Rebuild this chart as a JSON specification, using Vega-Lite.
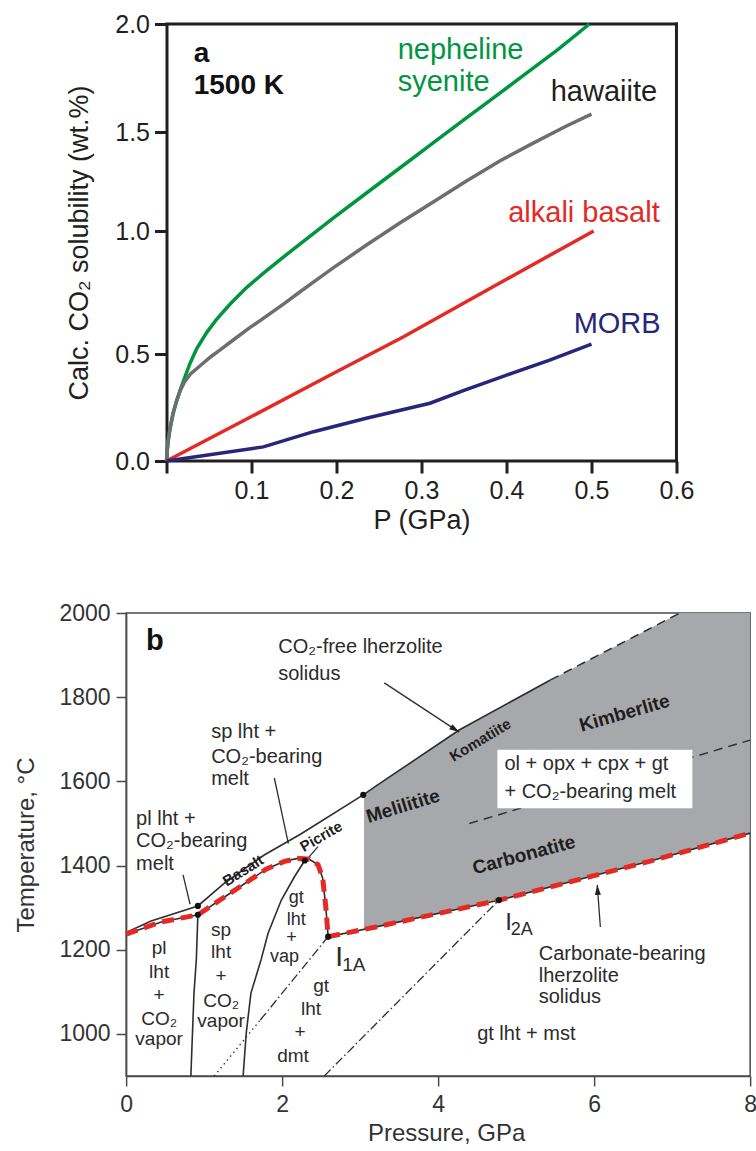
{
  "$schema": "https://vega.github.io/schema/vega-lite/v6.json",
  "background": "white",
  "padding": {"left": 14, "top": 12, "right": 0, "bottom": 0},
  "config": {"font": "Liberation Sans", "text": {"font": "Liberation Sans"}},
  "center": true,
  "spacing": 68,
  "datasets": {
    "A": [
      {"s": "nepheline syenite", "x": 0, "y": 0},
      {"s": "nepheline syenite", "x": 0.0008, "y": 0.047},
      {"s": "nepheline syenite", "x": 0.0021, "y": 0.098},
      {"s": "nepheline syenite", "x": 0.0041, "y": 0.15},
      {"s": "nepheline syenite", "x": 0.0076, "y": 0.22},
      {"s": "nepheline syenite", "x": 0.0118, "y": 0.28},
      {"s": "nepheline syenite", "x": 0.0165, "y": 0.336},
      {"s": "nepheline syenite", "x": 0.0212, "y": 0.388},
      {"s": "nepheline syenite", "x": 0.0279, "y": 0.458},
      {"s": "nepheline syenite", "x": 0.0356, "y": 0.522},
      {"s": "nepheline syenite", "x": 0.0474, "y": 0.588},
      {"s": "nepheline syenite", "x": 0.0592, "y": 0.642},
      {"s": "nepheline syenite", "x": 0.0749, "y": 0.703},
      {"s": "nepheline syenite", "x": 0.0945, "y": 0.771},
      {"s": "nepheline syenite", "x": 0.1141, "y": 0.829},
      {"s": "nepheline syenite", "x": 0.1338, "y": 0.884},
      {"s": "nepheline syenite", "x": 0.1573, "y": 0.948},
      {"s": "nepheline syenite", "x": 0.1965, "y": 1.066},
      {"s": "nepheline syenite", "x": 0.2353, "y": 1.192},
      {"s": "nepheline syenite", "x": 0.2741, "y": 1.317},
      {"s": "nepheline syenite", "x": 0.3141, "y": 1.446},
      {"s": "nepheline syenite", "x": 0.3529, "y": 1.565},
      {"s": "nepheline syenite", "x": 0.3847, "y": 1.658},
      {"s": "nepheline syenite", "x": 0.42, "y": 1.7625},
      {"s": "nepheline syenite", "x": 0.46, "y": 1.88},
      {"s": "nepheline syenite", "x": 0.4976, "y": 2.0},
      {"s": "hawaiite", "x": 0, "y": 0},
      {"s": "hawaiite", "x": 0.0008, "y": 0.047},
      {"s": "hawaiite", "x": 0.0021, "y": 0.098},
      {"s": "hawaiite", "x": 0.0041, "y": 0.15},
      {"s": "hawaiite", "x": 0.0076, "y": 0.22},
      {"s": "hawaiite", "x": 0.0118, "y": 0.28},
      {"s": "hawaiite", "x": 0.0165, "y": 0.332},
      {"s": "hawaiite", "x": 0.0212, "y": 0.369},
      {"s": "hawaiite", "x": 0.0282, "y": 0.407},
      {"s": "hawaiite", "x": 0.0392, "y": 0.444},
      {"s": "hawaiite", "x": 0.0518, "y": 0.486},
      {"s": "hawaiite", "x": 0.0635, "y": 0.518},
      {"s": "hawaiite", "x": 0.0785, "y": 0.557},
      {"s": "hawaiite", "x": 0.0976, "y": 0.606},
      {"s": "hawaiite", "x": 0.1176, "y": 0.654},
      {"s": "hawaiite", "x": 0.1376, "y": 0.703},
      {"s": "hawaiite", "x": 0.1568, "y": 0.752},
      {"s": "hawaiite", "x": 0.1765, "y": 0.801},
      {"s": "hawaiite", "x": 0.1961, "y": 0.85},
      {"s": "hawaiite", "x": 0.2353, "y": 0.943},
      {"s": "hawaiite", "x": 0.2745, "y": 1.04},
      {"s": "hawaiite", "x": 0.3138, "y": 1.146},
      {"s": "hawaiite", "x": 0.3529, "y": 1.253},
      {"s": "hawaiite", "x": 0.3921, "y": 1.354},
      {"s": "hawaiite", "x": 0.4314, "y": 1.444},
      {"s": "hawaiite", "x": 0.4706, "y": 1.528},
      {"s": "hawaiite", "x": 0.5, "y": 1.583},
      {"s": "alkali basalt", "x": 0, "y": 0},
      {"s": "alkali basalt", "x": 0.1, "y": 0.208},
      {"s": "alkali basalt", "x": 0.2, "y": 0.417},
      {"s": "alkali basalt", "x": 0.2784, "y": 0.569},
      {"s": "alkali basalt", "x": 0.4, "y": 0.804},
      {"s": "alkali basalt", "x": 0.5026, "y": 1.0},
      {"s": "MORB", "x": 0, "y": 0},
      {"s": "MORB", "x": 0.114, "y": 0.066},
      {"s": "MORB", "x": 0.173, "y": 0.137},
      {"s": "MORB", "x": 0.235, "y": 0.2},
      {"s": "MORB", "x": 0.31, "y": 0.27},
      {"s": "MORB", "x": 0.35, "y": 0.33},
      {"s": "MORB", "x": 0.392, "y": 0.39},
      {"s": "MORB", "x": 0.45, "y": 0.47},
      {"s": "MORB", "x": 0.5, "y": 0.54}
    ],
    "Aframe": [
      {"x": 0, "y": 2, "x2": 0.6, "y2": 2},
      {"x": 0.6, "y": 0, "x2": 0.6, "y2": 2},
      {"x": 0, "y": 0, "x2": 0.6, "y2": 0}
    ],
    "Alab": [
      {"t": "a", "x": 0.032, "y": 1.824, "c": "ink", "w": "b"},
      {"t": "1500 K", "x": 0.032, "y": 1.676, "c": "ink", "w": "b"},
      {"t": "nepheline", "x": 0.272, "y": 1.838, "c": "nepheline syenite", "w": "n"},
      {"t": "syenite", "x": 0.272, "y": 1.69, "c": "nepheline syenite", "w": "n"},
      {"t": "hawaiite", "x": 0.452, "y": 1.645, "c": "ink", "w": "n"},
      {"t": "alkali basalt", "x": 0.402, "y": 1.047, "c": "alkali basalt", "w": "n"},
      {"t": "MORB", "x": 0.479, "y": 0.585, "c": "MORB", "w": "n"}
    ],
    "Barea": [
      {"P": 3.05, "T": 1569, "T2": 1248},
      {"P": 3.22, "T": 1591, "T2": 1255},
      {"P": 4.27, "T": 1722, "T2": 1297},
      {"P": 5.44, "T": 1841, "T2": 1349},
      {"P": 7.1, "T": 2000, "T2": 1430},
      {"P": 8.0, "T": 2000, "T2": 1477}
    ],
    "Bline": [
      {"id": "co2free", "st": "solid", "P": 0, "T": 1241},
      {"id": "co2free", "st": "solid", "P": 0.32, "T": 1268},
      {"id": "co2free", "st": "solid", "P": 0.92, "T": 1304},
      {"id": "co2free", "st": "solid", "P": 1.26, "T": 1358},
      {"id": "co2free", "st": "solid", "P": 1.77, "T": 1425},
      {"id": "co2free", "st": "solid", "P": 2.24, "T": 1475},
      {"id": "co2free", "st": "solid", "P": 3.04, "T": 1568},
      {"id": "co2free", "st": "solid", "P": 3.22, "T": 1591},
      {"id": "co2free", "st": "solid", "P": 4.27, "T": 1722},
      {"id": "co2free", "st": "solid", "P": 5.44, "T": 1841},
      {"id": "co2freeDash", "st": "dash", "P": 5.44, "T": 1841},
      {"id": "co2freeDash", "st": "dash", "P": 7.1, "T": 2000},
      {"id": "plsp", "st": "solid", "P": 0.92, "T": 1283},
      {"id": "plsp", "st": "solid", "P": 0.9, "T": 1176},
      {"id": "plsp", "st": "solid", "P": 0.87, "T": 1097},
      {"id": "plsp", "st": "solid", "P": 0.83, "T": 900},
      {"id": "spgt", "st": "solid", "P": 2.29, "T": 1412},
      {"id": "spgt", "st": "solid", "P": 2.16, "T": 1374},
      {"id": "spgt", "st": "solid", "P": 1.99, "T": 1318},
      {"id": "spgt", "st": "solid", "P": 1.82, "T": 1239},
      {"id": "spgt", "st": "solid", "P": 1.73, "T": 1176},
      {"id": "spgt", "st": "solid", "P": 1.6, "T": 1097},
      {"id": "spgt", "st": "solid", "P": 1.54, "T": 1002},
      {"id": "spgt", "st": "solid", "P": 1.5, "T": 900},
      {"id": "dmt", "st": "dot", "P": 1.13, "T": 900},
      {"id": "dmt", "st": "dot", "P": 1.72, "T": 1033},
      {"id": "dmtU", "st": "dashdot", "P": 1.72, "T": 1033},
      {"id": "dmtU", "st": "dashdot", "P": 2.59, "T": 1231},
      {"id": "mst", "st": "dashdot", "P": 2.54, "T": 900},
      {"id": "mst", "st": "dashdot", "P": 4.78, "T": 1318},
      {"id": "kimb", "st": "dash", "P": 4.4, "T": 1500},
      {"id": "kimb", "st": "dash", "P": 8.0, "T": 1698},
      {"id": "carb", "st": "carb", "P": 0, "T": 1237},
      {"id": "carb", "st": "carb", "P": 0.45, "T": 1266},
      {"id": "carb", "st": "carb", "P": 0.92, "T": 1283},
      {"id": "carb", "st": "carb", "P": 1.3, "T": 1330},
      {"id": "carb", "st": "carb", "P": 1.56, "T": 1362},
      {"id": "carb", "st": "carb", "P": 1.8, "T": 1392},
      {"id": "carb", "st": "carb", "P": 2.03, "T": 1410},
      {"id": "carb", "st": "carb", "P": 2.2, "T": 1417},
      {"id": "carb", "st": "carb", "P": 2.35, "T": 1415},
      {"id": "carb", "st": "carb", "P": 2.46, "T": 1402},
      {"id": "carb", "st": "carb", "P": 2.52, "T": 1370},
      {"id": "carb", "st": "carb", "P": 2.56, "T": 1302},
      {"id": "carb", "st": "carb", "P": 2.59, "T": 1231},
      {"id": "carb", "st": "carb", "P": 3.25, "T": 1256},
      {"id": "carb", "st": "carb", "P": 4.79, "T": 1318},
      {"id": "carb", "st": "carb", "P": 6.77, "T": 1413},
      {"id": "carb", "st": "carb", "P": 8.0, "T": 1477}
    ],
    "Bpt": [
      {"P": 0.92, "T": 1304},
      {"P": 0.92, "T": 1283},
      {"P": 2.29, "T": 1412},
      {"P": 3.04, "T": 1568},
      {"P": 2.59, "T": 1231},
      {"P": 4.78, "T": 1318}
    ],
    "Barr": [
      {"P": 3.31, "T": 1834, "P2": 4.27, "T2": 1717},
      {"P": 6.08, "T": 1254, "P2": 6.04, "T2": 1354},
      {"P": 1.9, "T": 1608, "P2": 2.08, "T2": 1452},
      {"P": 0.73, "T": 1378, "P2": 0.82, "T2": 1308},
      {"P": 2.46, "T": 1445, "P2": 2.31, "T2": 1413}
    ],
    "Bhead": [
      {"P": 4.27, "T": 1717, "ang": 123},
      {"P": 6.04, "T": 1354, "ang": 356}
    ],
    "Bbox": [
      {"P": 4.76, "T": 1675, "P2": 7.26, "T2": 1536}
    ],
    "Btxt": [
      {"t": "b", "P": 0.256, "T": 1912, "k": "B", "fs": 29, "ang": 0},
      {"t": "CO₂-free lherzolite", "P": 1.95, "T": 1905, "k": "l", "fs": 20, "ang": 0},
      {"t": "solidus", "P": 1.95, "T": 1841, "k": "l", "fs": 20, "ang": 0},
      {"t": "sp lht +", "P": 1.09, "T": 1703, "k": "l", "fs": 20, "ang": 0},
      {"t": "CO₂-bearing", "P": 1.09, "T": 1644, "k": "l", "fs": 20, "ang": 0},
      {"t": "melt", "P": 1.09, "T": 1591, "k": "l", "fs": 20, "ang": 0},
      {"t": "pl lht +", "P": 0.128, "T": 1496, "k": "l", "fs": 20, "ang": 0},
      {"t": "CO₂-bearing", "P": 0.128, "T": 1445, "k": "l", "fs": 20, "ang": 0},
      {"t": "melt", "P": 0.128, "T": 1389, "k": "l", "fs": 20, "ang": 0},
      {"t": "ol + opx + cpx + gt", "P": 4.85, "T": 1627, "k": "l", "fs": 20, "ang": 0},
      {"t": "+ CO₂-bearing melt", "P": 4.85, "T": 1560, "k": "l", "fs": 20, "ang": 0},
      {"t": "Carbonate-bearing", "P": 5.29, "T": 1176, "k": "l", "fs": 20, "ang": 0},
      {"t": "lherzolite", "P": 5.29, "T": 1124, "k": "l", "fs": 20, "ang": 0},
      {"t": "solidus", "P": 5.29, "T": 1074, "k": "l", "fs": 20, "ang": 0},
      {"t": "gt lht + mst", "P": 4.5, "T": 986, "k": "l", "fs": 20, "ang": 0},
      {"t": "I", "P": 2.68, "T": 1161, "k": "l", "fs": 28, "ang": 0},
      {"t": "1A", "P": 2.77, "T": 1149, "k": "l", "fs": 19, "ang": 0},
      {"t": "I", "P": 4.86, "T": 1247, "k": "l", "fs": 24, "ang": 0},
      {"t": "2A", "P": 4.93, "T": 1235, "k": "l", "fs": 18, "ang": 0},
      {"t": "pl", "P": 0.423, "T": 1191, "k": "c", "fs": 19, "ang": 0},
      {"t": "lht", "P": 0.423, "T": 1134, "k": "c", "fs": 19, "ang": 0},
      {"t": "+", "P": 0.423, "T": 1079, "k": "c", "fs": 19, "ang": 0},
      {"t": "CO₂", "P": 0.423, "T": 1020, "k": "c", "fs": 19, "ang": 0},
      {"t": "vapor", "P": 0.423, "T": 974, "k": "c", "fs": 19, "ang": 0},
      {"t": "sp", "P": 1.218, "T": 1233, "k": "c", "fs": 19, "ang": 0},
      {"t": "lht", "P": 1.218, "T": 1180, "k": "c", "fs": 19, "ang": 0},
      {"t": "+", "P": 1.218, "T": 1124, "k": "c", "fs": 19, "ang": 0},
      {"t": "CO₂", "P": 1.218, "T": 1065, "k": "c", "fs": 19, "ang": 0},
      {"t": "vapor", "P": 1.218, "T": 1017, "k": "c", "fs": 19, "ang": 0},
      {"t": "gt", "P": 2.18, "T": 1310, "k": "c", "fs": 18, "ang": 0},
      {"t": "lht", "P": 2.18, "T": 1259, "k": "c", "fs": 18, "ang": 0},
      {"t": "+", "P": 2.12, "T": 1216, "k": "c", "fs": 18, "ang": 0},
      {"t": "vap", "P": 2.03, "T": 1172, "k": "c", "fs": 18, "ang": 0},
      {"t": "gt", "P": 2.5, "T": 1100, "k": "c", "fs": 19, "ang": 0},
      {"t": "lht", "P": 2.37, "T": 1045, "k": "c", "fs": 19, "ang": 0},
      {"t": "+", "P": 2.23, "T": 990, "k": "c", "fs": 19, "ang": 0},
      {"t": "dmt", "P": 2.14, "T": 934, "k": "c", "fs": 19, "ang": 0},
      {"t": "Basalt", "P": 1.5, "T": 1388, "k": "r", "fs": 15, "ang": 328},
      {"t": "Picrite", "P": 2.5, "T": 1469, "k": "r", "fs": 15, "ang": 330},
      {"t": "Komatiite", "P": 4.54, "T": 1698, "k": "r", "fs": 15, "ang": 329},
      {"t": "Melilitite", "P": 3.55, "T": 1541, "k": "r", "fs": 19, "ang": 343},
      {"t": "Kimberlite", "P": 6.39, "T": 1762, "k": "r", "fs": 19, "ang": 344},
      {"t": "Carbonatite", "P": 5.1, "T": 1425, "k": "r", "fs": 19, "ang": 345}
    ]
  },
  "vconcat": [
    {
      "width": 554,
      "height": 437,
      "view": {"stroke": null},
      "encoding": {
        "x": {
          "field": "x", "type": "quantitative",
          "scale": {"domain": [0, 0.6518], "nice": false, "zero": false},
          "axis": {
            "title": "P (GPa)", "titleX": 255, "values": [0, 0.1, 0.2, 0.3, 0.4, 0.5, 0.6],
            "labelExpr": "datum.value == 0 ? '' : format(datum.value, '.1f')",
            "grid": false, "domain": false,
            "tickColor": "#231f20", "tickWidth": 3, "tickSize": 12,
            "labelFont": "Liberation Sans", "labelFontSize": 25, "labelColor": "#231f20",
            "labelPadding": 5, "labelFlush": false, "labelOverlap": false,
            "titleFont": "Liberation Sans", "titleFontSize": 27, "titleFontWeight": "normal",
            "titleColor": "#231f20", "titlePadding": 4
          }
        },
        "y": {
          "field": "y", "type": "quantitative",
          "scale": {"domain": [0, 0.5, 1, 1.5, 2], "range": [437, 330, 207, 108, 0], "nice": false, "zero": false},
          "axis": {
            "title": "Calc. CO₂ solubility (wt.%)", "values": [0, 0.5, 1, 1.5, 2], "format": ".1f",
            "grid": false, "domainColor": "#231f20", "domainWidth": 3,
            "tickColor": "#231f20", "tickWidth": 3, "tickSize": 12,
            "labelFont": "Liberation Sans", "labelFontSize": 25, "labelColor": "#231f20",
            "labelPadding": 5, "labelFlush": false, "labelOverlap": false,
            "titleFont": "Liberation Sans", "titleFontSize": 27, "titleFontWeight": "normal",
            "titleColor": "#231f20", "titlePadding": 21
          }
        }
      },
      "layer": [
        {
          "data": {"name": "Aframe"},
          "mark": {"type": "rule", "color": "#231f20", "strokeWidth": 3, "strokeCap": "square"},
          "encoding": {"x2": {"field": "x2"}, "y2": {"field": "y2"}}
        },
        {
          "data": {"name": "A"},
          "mark": {"type": "line", "strokeWidth": 3.5},
          "encoding": {
            "color": {"field": "s", "type": "nominal", "legend": null,
              "scale": {"domain": ["nepheline syenite", "hawaiite", "alkali basalt", "MORB", "ink"],
                        "range": ["#00963f", "#6d6e71", "#e42a24", "#27267a", "#231f20"]}},
            "detail": {"field": "s", "type": "nominal"}
          }
        },
        {
          "data": {"name": "Alab"},
          "transform": [{"filter": "datum.w == 'n'"}],
          "mark": {"type": "text", "align": "left", "baseline": "alphabetic", "fontSize": 29, "font": "Liberation Sans"},
          "encoding": {
            "text": {"field": "t"},
            "color": {"field": "c", "type": "nominal", "legend": null,
              "scale": {"domain": ["nepheline syenite", "hawaiite", "alkali basalt", "MORB", "ink"],
                        "range": ["#00963f", "#6d6e71", "#e42a24", "#27267a", "#231f20"]}}
          }
        },
        {
          "data": {"name": "Alab"},
          "transform": [{"filter": "datum.w == 'b'"}],
          "mark": {"type": "text", "align": "left", "baseline": "alphabetic", "fontSize": 28, "fontWeight": "bold", "font": "Liberation Sans", "color": "#111111"},
          "encoding": {"text": {"field": "t"}}
        }
      ]
    },
    {
      "width": 624,
      "height": 463,
      "view": {"stroke": "#4a4a4a", "strokeWidth": 1.5},
      "encoding": {
        "x": {
          "field": "P", "type": "quantitative",
          "scale": {"domain": [0, 8], "nice": false, "zero": false},
          "axis": {
            "title": "Pressure, GPa", "titleX": 320, "values": [0, 2, 4, 6, 8], "format": "d",
            "grid": false, "domainColor": "#4a4a4a", "domainWidth": 1.5,
            "tickColor": "#4a4a4a", "tickWidth": 1.5, "tickSize": 10,
            "labelFont": "Liberation Sans", "labelFontSize": 23, "labelColor": "#333333",
            "labelPadding": 7, "labelFlush": false, "labelOverlap": false,
            "titleFont": "Liberation Sans", "titleFontSize": 24, "titleFontWeight": "normal",
            "titleColor": "#333333", "titlePadding": 5
          }
        },
        "y": {
          "field": "T", "type": "quantitative",
          "scale": {"domain": [900, 2000], "nice": false, "zero": false},
          "axis": {
            "title": "Temperature, °C", "values": [1000, 1200, 1400, 1600, 1800, 2000], "format": "d",
            "grid": false, "domainColor": "#4a4a4a", "domainWidth": 1.5,
            "tickColor": "#4a4a4a", "tickWidth": 1.5, "tickSize": 10,
            "labelFont": "Liberation Sans", "labelFontSize": 23, "labelColor": "#333333",
            "labelPadding": 6, "labelFlush": false, "labelOverlap": false,
            "titleFont": "Liberation Sans", "titleFontSize": 24, "titleFontWeight": "normal",
            "titleColor": "#333333", "titlePadding": 20
          }
        }
      },
      "layer": [
        {
          "data": {"name": "Barea"},
          "mark": {"type": "area", "color": "#a7a8ab", "opacity": 1},
          "encoding": {"y2": {"field": "T2"}}
        },
        {
          "data": {"name": "Bline"},
          "transform": [{"filter": "datum.st == 'solid' || datum.st == 'carb'"}],
          "mark": {"type": "line", "color": "#2e2e2e", "strokeWidth": 1.6},
          "encoding": {"detail": {"field": "id", "type": "nominal"}}
        },
        {
          "data": {"name": "Bline"},
          "transform": [{"filter": "datum.st == 'dash'"}],
          "mark": {"type": "line", "color": "#2e2e2e", "strokeWidth": 1.5, "strokeDash": [9, 6]},
          "encoding": {"detail": {"field": "id", "type": "nominal"}}
        },
        {
          "data": {"name": "Bline"},
          "transform": [{"filter": "datum.st == 'dot'"}],
          "mark": {"type": "line", "color": "#2e2e2e", "strokeWidth": 1.3, "strokeDash": [1.5, 3.5]},
          "encoding": {"detail": {"field": "id", "type": "nominal"}}
        },
        {
          "data": {"name": "Bline"},
          "transform": [{"filter": "datum.st == 'dashdot'"}],
          "mark": {"type": "line", "color": "#2e2e2e", "strokeWidth": 1.3, "strokeDash": [9, 3, 1.5, 3]},
          "encoding": {"detail": {"field": "id", "type": "nominal"}}
        },
        {
          "data": {"name": "Bbox"},
          "mark": {"type": "rect", "color": "white", "opacity": 1},
          "encoding": {"x2": {"field": "P2"}, "y2": {"field": "T2"}}
        },
        {
          "data": {"name": "Barr"},
          "mark": {"type": "rule", "color": "#2e2e2e", "strokeWidth": 1.3},
          "encoding": {"x2": {"field": "P2"}, "y2": {"field": "T2"}}
        },
        {
          "data": {"name": "Bhead"},
          "mark": {"type": "point", "shape": "M0,0L0.6,2L-0.6,2Z", "filled": true, "color": "#1e1e1e", "size": 100, "opacity": 1},
          "encoding": {"angle": {"field": "ang", "type": "quantitative", "scale": null}}
        },
        {
          "data": {"name": "Bline"},
          "transform": [{"filter": "datum.st == 'carb'"}],
          "mark": {"type": "line", "color": "#e42a24", "strokeWidth": 5, "strokeDash": [12, 7]},
          "encoding": {"detail": {"field": "id", "type": "nominal"}}
        },
        {
          "data": {"name": "Bpt"},
          "mark": {"type": "point", "shape": "circle", "filled": true, "color": "#111111", "size": 38, "opacity": 1}
        },
        {
          "data": {"name": "Btxt"},
          "transform": [{"filter": "datum.k == 'l'"}],
          "mark": {"type": "text", "align": "left", "baseline": "alphabetic", "color": "#2b2b2b", "font": "Liberation Sans"},
          "encoding": {"text": {"field": "t"}, "size": {"field": "fs", "type": "quantitative", "scale": null}}
        },
        {
          "data": {"name": "Btxt"},
          "transform": [{"filter": "datum.k == 'c'"}],
          "mark": {"type": "text", "align": "center", "baseline": "alphabetic", "color": "#2b2b2b", "font": "Liberation Sans"},
          "encoding": {"text": {"field": "t"}, "size": {"field": "fs", "type": "quantitative", "scale": null}}
        },
        {
          "data": {"name": "Btxt"},
          "transform": [{"filter": "datum.k == 'r'"}],
          "mark": {"type": "text", "align": "center", "baseline": "middle", "fontWeight": "bold", "color": "#1e1e1e", "font": "Liberation Sans"},
          "encoding": {
            "text": {"field": "t"},
            "size": {"field": "fs", "type": "quantitative", "scale": null},
            "angle": {"field": "ang", "type": "quantitative", "scale": null}
          }
        },
        {
          "data": {"name": "Btxt"},
          "transform": [{"filter": "datum.k == 'B'"}],
          "mark": {"type": "text", "align": "left", "baseline": "alphabetic", "fontWeight": "bold", "color": "#111111", "font": "Liberation Sans"},
          "encoding": {"text": {"field": "t"}, "size": {"field": "fs", "type": "quantitative", "scale": null}}
        }
      ]
    }
  ]
}
